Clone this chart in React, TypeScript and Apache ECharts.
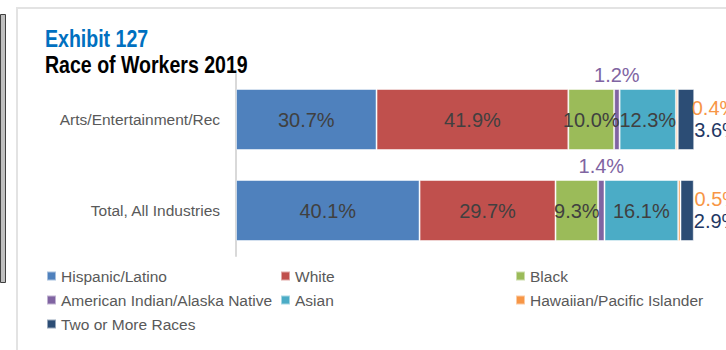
import React, { useEffect, useRef } from "react";
import * as echarts from "echarts";

const categories = ["Arts/Entertainment/Rec", "Total, All Industries"];
const hispanic = [30.7, 40.1];
const white = [41.9, 29.7];
const black = [10.0, 9.3];
const amIndian = [1.2, 1.4];
const asian = [12.3, 16.1];
const hawaiian = [0.4, 0.5];
const twoOrMore = [3.6, 2.9];

const seriesNames = [
  "Hispanic/Latino",
  "White",
  "Black",
  "American Indian/Alaska Native",
  "Asian",
  "Hawaiian/Pacific Islander",
  "Two or More Races",
];
const seriesValues = [hispanic, white, black, amIndian, asian, hawaiian, twoOrMore];
const colors = ["#4F81BD", "#C0504D", "#9BBB59", "#8064A2", "#4BACC6", "#F79646", "#2C4D75"];

const FONT = "'Liberation Sans Narrow', 'Arial Narrow', 'Liberation Sans', Arial, sans-serif";

export default function App() {
  const ref = useRef<HTMLDivElement>(null);
  useEffect(() => {
    if (!ref.current) return;
    const chart = echarts.init(ref.current, undefined, { renderer: "svg" });
    const fmt = (p: any) => Number(p.value).toFixed(1) + "%";
    const labelFor = (i: number): any => {
      const base = { show: true, formatter: fmt, fontFamily: FONT, fontSize: 20 };
      if (i === 3) return { ...base, position: "top", distance: 4, color: "#8064A2" };
      if (i === 5) return { ...base, position: "right", distance: 14, offset: [0, -12], color: "#F79646" };
      if (i === 6) return { ...base, position: "right", distance: 0, offset: [0, 10], color: "#1F3864" };
      return { ...base, position: "inside", color: "#404040" };
    };
    chart.setOption({
      animation: false,
      backgroundColor: "#ffffff",
      color: colors,
      textStyle: { fontFamily: FONT },
      grid: { left: 236, top: 74, width: 458, height: 182, containLabel: false },
      xAxis: { type: "value", min: 0, max: 100.05, show: false },
      yAxis: {
        type: "category",
        data: categories,
        inverse: true,
        axisLine: { show: true, lineStyle: { color: "#D9D9D9", width: 2 } },
        axisTick: { show: false },
        axisLabel: { color: "#595959", fontSize: 15.5, fontFamily: FONT, margin: 16 },
      },
      legend: [
        { names: [0, 3, 6], left: 46 },
        { names: [1, 4], left: 280 },
        { names: [2, 5], left: 515 },
      ].map((l) => ({
        data: l.names.map((i) => seriesNames[i]),
        left: l.left,
        top: 268,
        padding: 0,
        orient: "vertical",
        itemWidth: 9,
        itemHeight: 9,
        itemGap: 8,
        icon: "rect",
        selectedMode: false,
        textStyle: { color: "#595959", fontSize: 15.5, lineHeight: 16, fontFamily: FONT },
      })),
      graphic: [
        { type: "rect", shape: { x: 0.5, y: 14.5, width: 5, height: 268 }, style: { fill: "#BFBFBF", stroke: "#404040", lineWidth: 1 }, silent: true },
        { type: "polyline", shape: { points: [[17, 350], [17, 8], [726, 8]] }, style: { stroke: "#E3E3E3", lineWidth: 2, fill: "none" }, silent: true },
        { type: "text", x: 45, y: 39, scaleX: 0.85, style: { text: "Exhibit 127", fill: "#0070C0", font: `bold 23px ${FONT}`, verticalAlign: "middle" } },
        { type: "text", x: 45, y: 65, scaleX: 0.85, style: { text: "Race of Workers 2019", fill: "#000000", font: `bold 23px ${FONT}`, verticalAlign: "middle" } },
      ],
      series: seriesNames.map((name, i) => ({
        name,
        type: "bar",
        stack: "total",
        barWidth: 61,
        data: seriesValues[i],
        itemStyle: { color: colors[i], borderColor: "rgba(255,255,255,0.5)", borderWidth: 1 },
        label: labelFor(i),
      })),
    });
    return () => chart.dispose();
  }, []);
  return (
    <div
      ref={ref}
      style={{ position: "fixed", left: 0, top: 0, width: 726, height: 350 }}
    />
  );
}
